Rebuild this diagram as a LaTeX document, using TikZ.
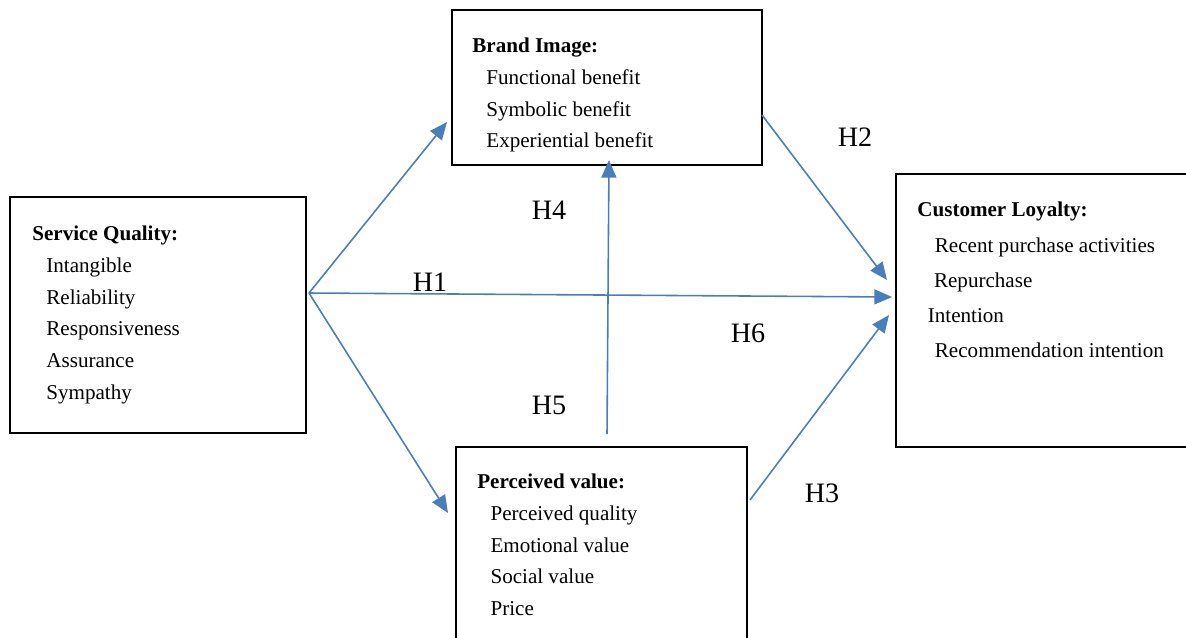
\documentclass[tikz,border=0pt]{standalone}
\usepackage{fontspec}
\setmainfont{Liberation Serif}
\usetikzlibrary{positioning, arrows.meta}
\definecolor{linkblue}{RGB}{74,126,187}

\begin{document}
\begin{tikzpicture}[
    x=0.02cm, y=-0.02cm,
    >={Triangle[length=10pt, width=8.5pt]},
    construct/.style={rectangle, draw=black, line width=1pt, inner sep=0pt},
    items/.style={anchor=north west, align=left, inner sep=0pt,
                  font=\fontsize{12}{18}\selectfont},
    link/.style={->, draw=linkblue, fill=linkblue, line width=0.9pt},
    hyp/.style={font=\fontsize{16}{19}\selectfont},
]
\useasboundingbox (0,0) rectangle (1186,637);

% Construct boxes
\node[construct, minimum width=5.92cm, minimum height=4.72cm] (sq) at (158,315) {};
\node[construct, minimum width=6.2cm, minimum height=3.1cm] (bi) at (607,87.5) {};
\node[construct, minimum width=5.82cm, minimum height=3.84cm] (pv) at (601.5,543) {};
\node[construct, minimum width=5.82cm, minimum height=5.46cm] (cl) at (1041.5,310.5) {};

% Box contents
\node[items] (sq-text) at (32,226) {\textbf{Service Quality:}\\
    \hspace*{8pt}Intangible\\
    \hspace*{8pt}Reliability\\
    \hspace*{8pt}Responsiveness\\
    \hspace*{8pt}Assurance\\
    \hspace*{8pt}Sympathy};
\node[items] (bi-text) at (472,38) {\textbf{Brand Image:}\\
    \hspace*{8pt}Functional benefit\\
    \hspace*{8pt}Symbolic benefit\\
    \hspace*{8pt}Experiential benefit};
\node[items] (pv-text) at (477,474) {\textbf{Perceived value:}\\
    \hspace*{7.5pt}Perceived quality\\
    \hspace*{7.5pt}Emotional value\\
    \hspace*{7.5pt}Social value\\
    \hspace*{7.5pt}Price};
\node[items, font=\fontsize{12}{20}\selectfont] (cl-text) at (917,202) {\textbf{Customer Loyalty:}\\
    \hspace*{10pt}Recent purchase activities\\
    \hspace*{9.5pt}Repurchase\\
    \hspace*{6pt}Intention\\
    \hspace*{10pt}Recommendation intention};

% Arrow ends
\coordinate (sq-out) at (309,293);
\coordinate (bi-in) at (447,122);
\coordinate (bi-out) at (762,115);
\coordinate (bi-bottom) at (609,160);
\coordinate (pv-in) at (448,513);
\coordinate (pv-top) at (607,434);
\coordinate (pv-out) at (750,500);
\coordinate (cl-in-bi) at (887,280);
\coordinate (cl-in-sq) at (892,297);
\coordinate (cl-in-pv) at (889,315);

% Paths
\draw[link] (sq-out) -- (bi-in);
\draw[link] (sq-out) -- (cl-in-sq);
\draw[link] (sq-out) -- (pv-in);
\draw[link] (bi-out) -- (cl-in-bi);
\draw[link] (pv-out) -- (cl-in-pv);
\draw[link] (pv-top) -- (bi-bottom);

% Hypotheses
\node[hyp] (h1) at (430,282) {H1};
\node[hyp] (h2) at (855,137) {H2};
\node[hyp] (h3) at (822,493) {H3};
\node[hyp] (h4) at (549,210) {H4};
\node[hyp] (h5) at (549,405) {H5};
\node[hyp] (h6) at (748,333) {H6};

\end{tikzpicture}
\end{document}
